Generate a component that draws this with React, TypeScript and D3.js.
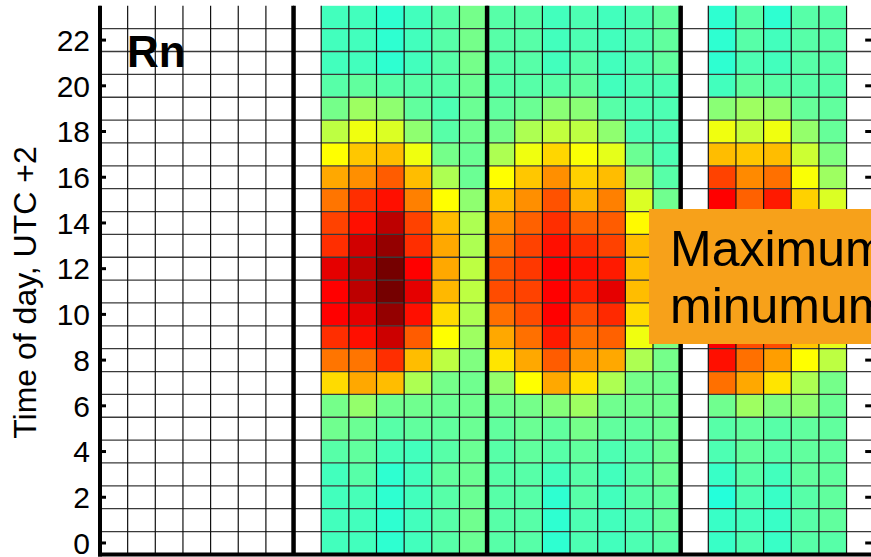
import React from "react";
import * as d3 from "d3";

// Columns are days (4 weeks), rows are hours of the day 0..23
const days = [1, 2, 3, 4, 5, 6, 7, 8, 9, 10, 11, 12, 13, 14, 15, 16, 17, 18, 19, 20, 21, 22, 23, 24, 25, 26, 27, 28];
const hours = [0, 1, 2, 3, 4, 5, 6, 7, 8, 9, 10, 11, 12, 13, 14, 15, 16, 17, 18, 19, 20, 21, 22, 23];
const hourTicks = [0, 2, 4, 6, 8, 10, 12, 14, 16, 18, 20, 22];
const weekBreaks = [7, 14, 21];

// Normalised Rn (colormap index 0..1), hour 0 .. hour 23
const day09 = [0.44, 0.44, 0.44, 0.44, 0.46, 0.485, 0.49, 0.66, 0.76, 0.83, 0.875, 0.875, 0.9, 0.83, 0.81, 0.76, 0.71, 0.625, 0.56, 0.49, 0.46, 0.44, 0.44, 0.44];
const day10 = [0.44, 0.44, 0.445, 0.46, 0.47, 0.48, 0.52, 0.71, 0.76, 0.86, 0.9, 0.94, 0.94, 0.92, 0.86, 0.83, 0.735, 0.68, 0.61, 0.53, 0.47, 0.44, 0.44, 0.44];
const day11 = [0.42, 0.42, 0.42, 0.42, 0.445, 0.46, 0.485, 0.69, 0.83, 0.925, 0.98, 1.01, 1.01, 0.98, 0.94, 0.86, 0.785, 0.69, 0.59, 0.515, 0.46, 0.42, 0.42, 0.42];
const day12 = [0.44, 0.44, 0.44, 0.44, 0.44, 0.47, 0.485, 0.545, 0.69, 0.785, 0.86, 0.9, 0.875, 0.83, 0.81, 0.75, 0.69, 0.61, 0.515, 0.47, 0.46, 0.44, 0.44, 0.44];
const day13 = [0.46, 0.46, 0.46, 0.47, 0.46, 0.47, 0.48, 0.49, 0.56, 0.625, 0.66, 0.695, 0.71, 0.71, 0.69, 0.625, 0.545, 0.49, 0.46, 0.45, 0.46, 0.46, 0.46, 0.46];
const day14 = [0.48, 0.485, 0.48, 0.48, 0.48, 0.48, 0.485, 0.485, 0.5, 0.53, 0.545, 0.56, 0.56, 0.545, 0.545, 0.515, 0.48, 0.48, 0.485, 0.48, 0.48, 0.49, 0.49, 0.49];
const day15 = [0.46, 0.46, 0.46, 0.46, 0.46, 0.47, 0.485, 0.52, 0.65, 0.71, 0.765, 0.8, 0.795, 0.765, 0.735, 0.69, 0.625, 0.545, 0.49, 0.47, 0.46, 0.46, 0.46, 0.46];
const day16 = [0.46, 0.46, 0.46, 0.46, 0.47, 0.48, 0.49, 0.625, 0.71, 0.765, 0.8, 0.81, 0.82, 0.81, 0.78, 0.735, 0.68, 0.61, 0.545, 0.48, 0.46, 0.46, 0.46, 0.46];
const day17 = [0.42, 0.42, 0.42, 0.44, 0.46, 0.47, 0.505, 0.71, 0.785, 0.85, 0.875, 0.875, 0.875, 0.86, 0.83, 0.795, 0.735, 0.665, 0.565, 0.51, 0.46, 0.44, 0.44, 0.44];
const day18 = [0.45, 0.45, 0.46, 0.46, 0.47, 0.49, 0.53, 0.65, 0.725, 0.765, 0.8, 0.845, 0.86, 0.83, 0.78, 0.7, 0.67, 0.62, 0.56, 0.51, 0.47, 0.46, 0.45, 0.45];
const day19 = [0.44, 0.44, 0.44, 0.44, 0.45, 0.47, 0.485, 0.545, 0.71, 0.78, 0.835, 0.9, 0.85, 0.81, 0.785, 0.75, 0.69, 0.6, 0.515, 0.46, 0.44, 0.44, 0.44, 0.44];
const day20 = [0.45, 0.45, 0.46, 0.46, 0.46, 0.47, 0.485, 0.49, 0.545, 0.61, 0.66, 0.69, 0.69, 0.69, 0.63, 0.59, 0.53, 0.48, 0.45, 0.45, 0.45, 0.45, 0.45, 0.45];
const day21 = [0.46, 0.47, 0.47, 0.48, 0.48, 0.48, 0.485, 0.485, 0.49, 0.5, 0.5, 0.5, 0.5, 0.5, 0.49, 0.485, 0.46, 0.45, 0.45, 0.45, 0.45, 0.47, 0.47, 0.47];
const day23 = [0.43, 0.43, 0.41, 0.43, 0.45, 0.46, 0.485, 0.765, 0.86, 0.88, 0.9, 0.92, 0.92, 0.9, 0.88, 0.875, 0.81, 0.69, 0.61, 0.51, 0.44, 0.42, 0.42, 0.42];
const day24 = [0.45, 0.44, 0.45, 0.46, 0.47, 0.47, 0.53, 0.71, 0.765, 0.8, 0.82, 0.84, 0.84, 0.82, 0.8, 0.78, 0.74, 0.68, 0.57, 0.53, 0.47, 0.45, 0.46, 0.46];
const day25 = [0.43, 0.43, 0.43, 0.44, 0.46, 0.46, 0.5, 0.65, 0.72, 0.8, 0.84, 0.86, 0.86, 0.86, 0.85, 0.85, 0.765, 0.69, 0.61, 0.52, 0.46, 0.44, 0.44, 0.42];
const day26 = [0.46, 0.46, 0.46, 0.47, 0.47, 0.47, 0.515, 0.545, 0.625, 0.68, 0.7, 0.72, 0.72, 0.7, 0.69, 0.67, 0.62, 0.575, 0.52, 0.475, 0.46, 0.46, 0.46, 0.46];
const day27 = [0.46, 0.47, 0.47, 0.47, 0.47, 0.47, 0.48, 0.49, 0.56, 0.6, 0.62, 0.63, 0.63, 0.62, 0.6, 0.59, 0.53, 0.5, 0.475, 0.47, 0.46, 0.46, 0.46, 0.46];

const seriesByDay: Record<number, number[]> = {
  9: day09, 10: day10, 11: day11, 12: day12, 13: day13, 14: day14,
  15: day15, 16: day16, 17: day17, 18: day18, 19: day19, 20: day20, 21: day21,
  23: day23, 24: day24, 25: day25, 26: day26, 27: day27,
};

const panelLabel = "Rn";
const yTitle = "Time of day, UTC +2";
const noteLines = ["Maximum", "minumum"];

const W = 871;
const H = 557;
const FONT = "'Liberation Sans', Arial, Helvetica, sans-serif";

function jet(v: number): string {
  const c = (t: number) => Math.max(0, Math.min(1, t));
  const r = c(Math.min(4 * v - 1.5, -4 * v + 4.5));
  const g = c(Math.min(4 * v - 0.5, -4 * v + 3.5));
  const b = c(Math.min(4 * v + 0.5, -4 * v + 2.5));
  return d3.rgb(r * 255, g * 255, b * 255).formatHex();
}

export default function App() {
  const x = d3.scaleBand<number>().domain(days).range([100, 874.2]).padding(0);
  const y = d3.scaleLinear().domain([-0.5, 23.5]).range([554.4, 5.8]);
  const bw = x.bandwidth();
  const top = y(23.5);
  const bottom = y(-0.5);
  const left = x(days[0])!;
  const right = x(days[days.length - 1])! + bw;

  const cells: { day: number; hour: number; v: number }[] = [];
  days.forEach((d) => {
    const s = seriesByDay[d];
    if (!s) return;
    hours.forEach((h, i) => cells.push({ day: d, hour: h, v: s[i] }));
  });

  const rowEdges = hours.map((h) => h + 0.5).slice(0, -1);

  return (
    <svg
      width={W}
      height={H}
      style={{ position: "absolute", left: 0, top: 0, background: "#fff" }}
      fontFamily={FONT}
    >
      {cells.map((c) => (
        <rect
          key={`${c.day}-${c.hour}`}
          x={x(c.day)!}
          y={y(c.hour + 0.5)}
          width={bw}
          height={y(c.hour - 0.5) - y(c.hour + 0.5)}
          fill={jet(c.v)}
        />
      ))}
      {rowEdges.map((e) => (
        <line key={`h${e}`} x1={left} x2={W + 10} y1={y(e)} y2={y(e)} stroke="#3a3a3a" strokeWidth={1.3} />
      ))}
      {days.map((d) => (
        <line key={`v${d}`} x1={x(d)!} x2={x(d)!} y1={top} y2={bottom} stroke="#111" strokeWidth={1.2} />
      ))}
      {weekBreaks.map((k) => (
        <line key={`w${k}`} x1={left + k * bw} x2={left + k * bw} y1={top} y2={bottom} stroke="#000" strokeWidth={4.5} />
      ))}
      <line x1={left} x2={left} y1={top} y2={bottom + 2} stroke="#000" strokeWidth={4} />
      <line x1={right + 2} x2={right + 2} y1={top} y2={bottom + 2} stroke="#000" strokeWidth={4} />
      <line x1={left - 2} x2={W + 10} y1={bottom} y2={bottom} stroke="#000" strokeWidth={4} />
      {hourTicks.map((t) => (
        <g key={`t${t}`}>
          <line x1={left} x2={left + 6} y1={y(t)} y2={y(t)} stroke="#000" strokeWidth={3} />
          <line x1={right - 9} x2={right} y1={y(t)} y2={y(t)} stroke="#000" strokeWidth={3} />
          <text x={90} y={y(t)} dy="0.36em" textAnchor="end" fontSize={30} fill="#000">
            {t}
          </text>
        </g>
      ))}
      <text
        transform={`translate(36,292.5) rotate(-90)`}
        textAnchor="middle"
        fontSize={32}
        fill="#000"
      >
        {yTitle}
      </text>
      <text x={127} y={67} fontSize={44} fontWeight="bold" fill="#000">
        {panelLabel}
      </text>
      <rect x={649} y={209} width={240} height={135} fill="#F7A11A" />
      {noteLines.map((t, i) => (
        <text key={t} x={670} y={265.5 + i * 57} fontSize={50} fill="#000">
          {t}
        </text>
      ))}
    </svg>
  );
}
